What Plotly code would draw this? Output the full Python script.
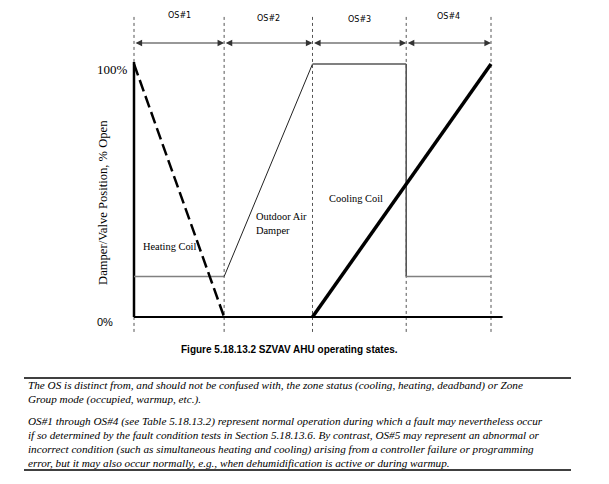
import plotly.graph_objects as go

# ---------------- data ----------------
state_labels = ["OS#1", "OS#2", "OS#3", "OS#4"]
state_bounds = [0, 1.01, 2.0, 3.05, 4.0]          # operating-state boundaries
label_y = [119.2, 117.8, 117.4, 118.6]            # OS label heights (% scale)

heating_x = [0, 1.01]
heating_y = [100, 0]

oa_x = [0, 1.01, 2.0, 3.05, 3.05, 4.0]
oa_y = [16, 16, 100, 100, 16, 16]

cooling_x = [2.0, 4.0]
cooling_y = [0, 100]

y_tick_vals = [100, 0]
y_tick_text = ["100%", "0%"]

caption = "Figure 5.18.13.2 SZVAV AHU operating states."
note_lines = [
    "The OS is distinct from, and should not be confused with, the zone status (cooling, heating, deadband) or Zone",
    "Group mode (occupied, warmup, etc.).",
    "OS#1 through OS#4 (see Table 5.18.13.2) represent normal operation during which a fault may nevertheless occur",
    "if so determined by the fault condition tests in Section 5.18.13.6. By contrast, OS#5 may represent an abnormal or",
    "incorrect condition (such as simultaneous heating and cooling) arising from a controller failure or programming",
    "error, but it may also occur normally, e.g., when dehumidification is active or during warmup.",
]

# ---------------- layout geometry ----------------
OFF = 8                      # default page body margin
W, H = 609 - 2 * OFF, 484 - 2 * OFF
X0_PX, X4_PX = 134 - OFF, 491 - OFF
Y0_PX, Y100_PX = 317 - OFF, 64 - OFF
ux = (X4_PX - X0_PX) / 4.0
uy = (Y0_PX - Y100_PX) / 100.0
x_range = [-X0_PX / ux, (W - X0_PX) / ux]
y_range = [(Y0_PX - H) / uy, Y0_PX / uy]


def py(p):  # window pixel row -> paper y
    return 1 - (p - OFF) / H


def px(p):  # window pixel column -> paper x
    return (p - OFF) / W


fig = go.Figure()

# dotted state boundaries
vx, vy = [], []
for b in state_bounds:
    vx += [b, b, None]
    vy += [-5.9, 119.6, None]
fig.add_trace(go.Scatter(x=vx, y=vy, mode="lines",
                         line=dict(color="#555555", width=1, dash="dot"),
                         hoverinfo="skip"))

# axes lines
fig.add_trace(go.Scatter(x=[0, 0], y=[0, 100.8], mode="lines",
                         line=dict(color="black", width=2.5), hoverinfo="skip"))
fig.add_trace(go.Scatter(x=[0, 4.13], y=[0, 0], mode="lines",
                         line=dict(color="black", width=2), hoverinfo="skip"))

# outdoor air damper (segment styles)
seg_styles = [
    dict(color="#808080", width=1.6),
    dict(color="#222222", width=1),
    dict(color="#808080", width=2),
    dict(color="#555555", width=1.6),
    dict(color="#808080", width=1.6),
]
for i in range(len(oa_x) - 1):
    fig.add_trace(go.Scatter(x=oa_x[i:i + 2], y=oa_y[i:i + 2], mode="lines",
                             line=seg_styles[i], hoverinfo="skip"))

# heating coil (dashed)
fig.add_trace(go.Scatter(x=heating_x, y=heating_y, mode="lines",
                         line=dict(color="black", width=2.5, dash="12px,5px"),
                         hoverinfo="skip"))

# cooling coil (thick)
fig.add_trace(go.Scatter(x=cooling_x, y=cooling_y, mode="lines",
                         line=dict(color="black", width=3.5), hoverinfo="skip"))

annotations = []
# double-headed arrows and OS labels
arrow_y = (Y0_PX - (43 - OFF)) / uy
for i, lab in enumerate(state_labels):
    a, b = state_bounds[i], state_bounds[i + 1]
    annotations.append(dict(x=b, y=arrow_y, ax=a, ay=arrow_y, xref="x", yref="y",
                            axref="x", ayref="y", text="", showarrow=True,
                            arrowhead=2, arrowside="end+start", arrowsize=1.2,
                            arrowwidth=1.1, arrowcolor="#333333",
                            standoff=0, startstandoff=0))
    annotations.append(dict(x=(a + b) / 2, y=label_y[i], xref="x", yref="y",
                            text=lab, showarrow=False,
                            font=dict(family="DejaVu Sans", size=8, color="black")))

# y tick labels
annotations.append(dict(x=-0.246, y=98.0, xref="x", yref="y", text=y_tick_text[0],
                        showarrow=False,
                        font=dict(family="Liberation Serif", size=13, color="black")))
annotations.append(dict(x=-0.325, y=-2.0, xref="x", yref="y", text=y_tick_text[1],
                        showarrow=False,
                        font=dict(family="Liberation Sans", size=11, color="black")))

# y-axis title
annotations.append(dict(x=-0.347, y=45.1, xref="x", yref="y",
                        text="Damper/Valve Position, % Open", textangle=-90,
                        showarrow=False,
                        font=dict(family="Liberation Serif", size=12.6, color="black")))

# series labels
lab_font = dict(family="Liberation Serif", size=10.4, color="black")
annotations.append(dict(x=0.078, y=27.7, xref="x", yref="y", text="Heating Coil",
                        xanchor="left", showarrow=False, font=lab_font))
annotations.append(dict(x=1.345, y=37.0, xref="x", yref="y", text="Outdoor Air<br>Damper",
                        xanchor="left", align="left", showarrow=False, font=lab_font))
annotations.append(dict(x=2.162, y=47.0, xref="x", yref="y", text="Cooling Coil",
                        xanchor="left", showarrow=False, font=lab_font))

# caption
annotations.append(dict(x=px(289), y=py(357), xref="paper", yref="paper",
                        text="<b>" + caption + "</b>", showarrow=False,
                        font=dict(family="Liberation Sans", size=10, color="black")))

# notes
note_rows = [385, 399, 421, 435, 449, 463]
for t, r in zip(note_lines, note_rows):
    annotations.append(dict(x=px(26), y=py(r), xref="paper", yref="paper",
                            text="<i>" + t + "</i>", xanchor="left", yanchor="middle",
                            showarrow=False,
                            font=dict(family="Liberation Serif", size=11.2, color="black")))

shapes = [
    dict(type="line", xref="paper", yref="paper", x0=px(24), x1=px(571),
         y0=py(378), y1=py(378), line=dict(color="black", width=1.5)),
    dict(type="line", xref="paper", yref="paper", x0=px(24), x1=px(571),
         y0=py(470), y1=py(470), line=dict(color="black", width=1.5)),
]

fig.update_layout(
    width=W, height=H,
    margin=dict(l=0, r=0, t=0, b=0),
    paper_bgcolor="white", plot_bgcolor="white",
    showlegend=False,
    xaxis=dict(visible=False, range=x_range, fixedrange=True),
    yaxis=dict(visible=False, range=y_range, fixedrange=True),
    annotations=annotations,
    shapes=shapes,
)

fig.write_html("out.html")
